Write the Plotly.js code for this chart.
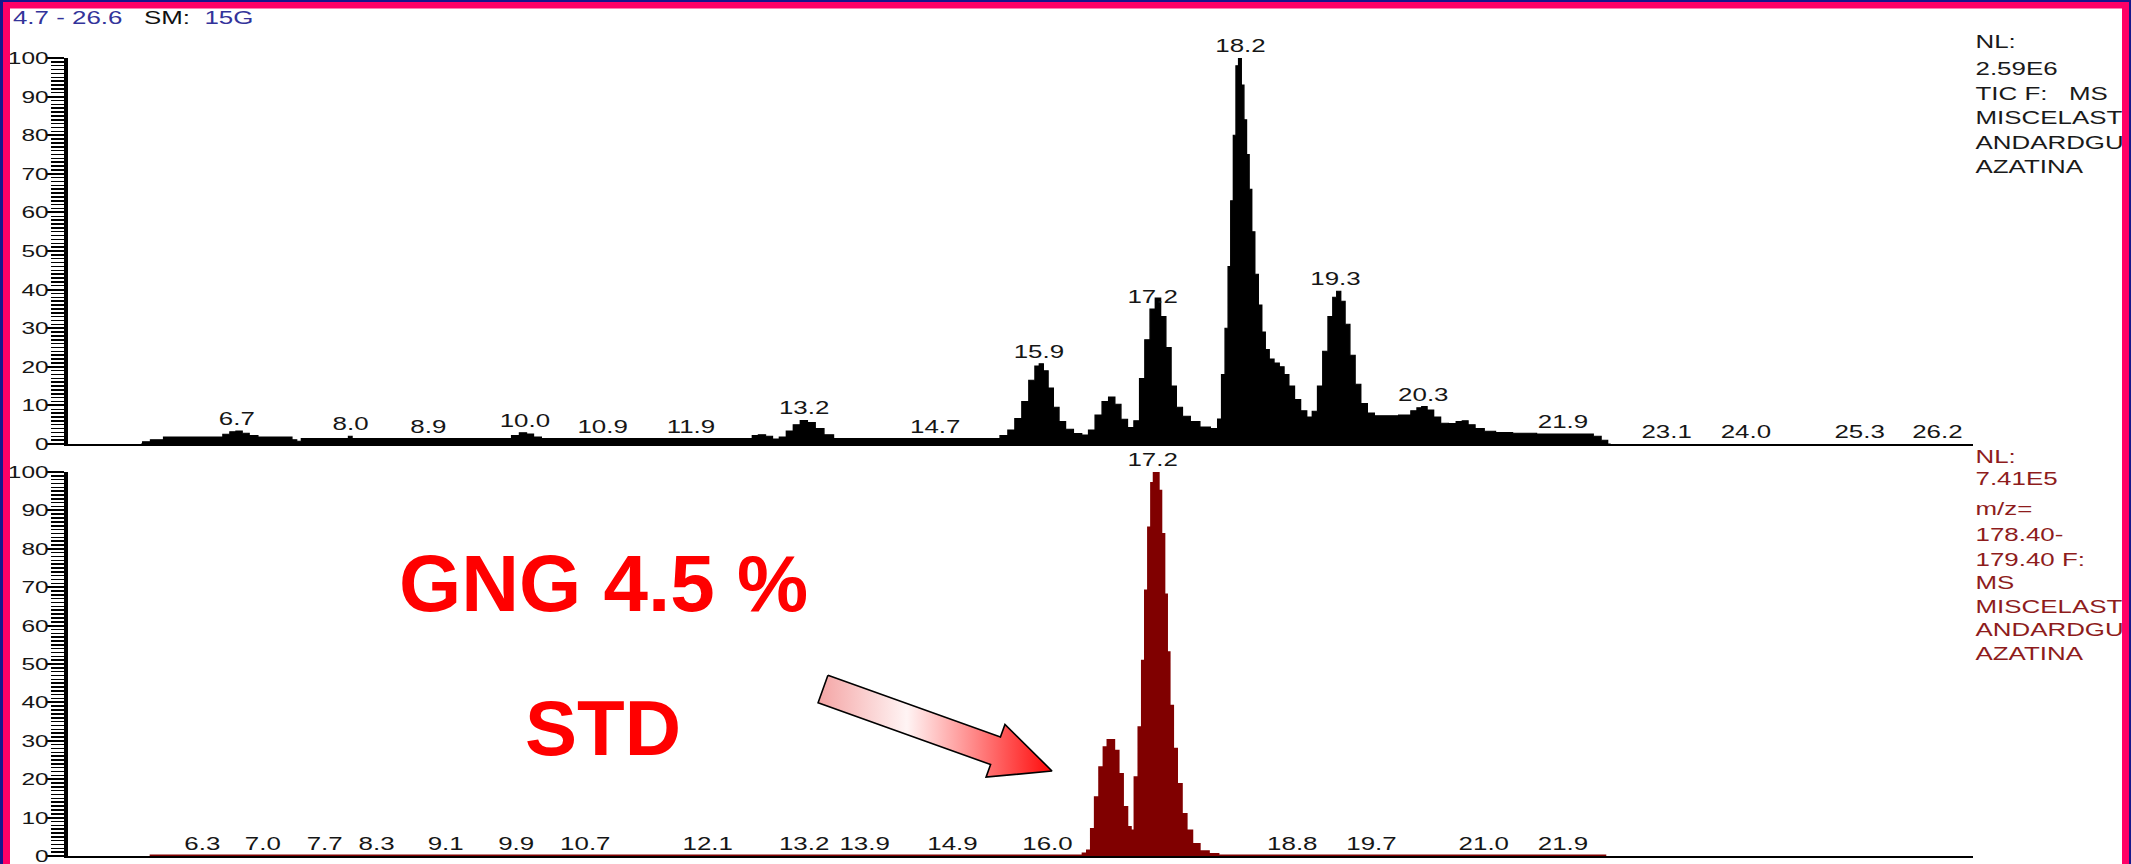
<!DOCTYPE html>
<html>
<head>
<meta charset="utf-8">
<title>Chromatogram</title>
<script src="https://cdn.plot.ly/plotly-3.0.1.min.js"></script>
<style>
  html, body { margin: 0; padding: 0; background: #ffffff; }
  #stage { position: relative; width: 2131px; height: 864px; overflow: hidden; background: #ffffff; }
  /* the instrument printout is laid out narrow and widened horizontally */
  #chart { position: absolute; left: 0; top: 0; width: 1480px; height: 864px;
           transform: scaleX(1.43986); transform-origin: 0 0; }
  #callout { position: absolute; left: 0; top: 0; width: 2131px; height: 864px; }
</style>
</head>
<body>
<div id="stage">
  <div id="chart"></div>
  <div id="callout"></div>
</div>
<script>
// ---------------- data ----------------
// Retention-time window shown on both traces (min)
const timeWindow = [4.76, 26.6];

// Total ion current: retention time (min) / relative abundance (%)
const ticTime = [
  5.60, 5.64, 5.78, 5.94, 6.30, 6.50, 6.58, 6.66, 6.72, 6.80, 6.88, 7.00,
  7.30, 7.36, 7.41, 7.47, 7.96, 8.00, 8.04, 9.80, 9.90, 9.98, 10.06, 10.14,
  10.24, 12.58, 12.64, 12.72, 12.80, 12.88, 12.96, 13.04, 13.12, 13.20, 13.28, 13.38,
  13.48, 13.60, 15.40, 15.50, 15.58, 15.66, 15.74, 15.82, 15.88, 15.92, 15.97, 16.03,
  16.09, 16.16, 16.24, 16.34, 16.43, 16.50, 16.58, 16.66, 16.73, 16.80, 16.87, 16.95,
  17.02, 17.08, 17.14, 17.20, 17.26, 17.32, 17.38, 17.44, 17.50, 17.58, 17.68, 17.80,
  17.92, 17.97, 18.01, 18.05, 18.08, 18.11, 18.14, 18.17, 18.20, 18.23, 18.26, 18.29,
  18.32, 18.35, 18.39, 18.43, 18.47, 18.51, 18.56, 18.62, 18.68, 18.73, 18.79, 18.86,
  18.93, 19.00, 19.06, 19.12, 19.18, 19.24, 19.29, 19.33, 19.38, 19.43, 19.49, 19.55,
  19.62, 19.70, 19.78, 19.92, 20.12, 20.20, 20.26, 20.31, 20.38, 20.46, 20.54, 20.64,
  20.72, 20.78, 20.85, 20.94, 21.06, 21.20, 21.45, 21.75, 22.20, 22.30, 22.38, 22.45
];
const ticAbundance = [
  0, 0.6, 1.1, 1.8, 1.8, 1.8, 2.5, 3.2, 3.4, 2.8, 2.2, 1.8,
  1.8, 1.1, 0.7, 1.4, 1.4, 2.0, 1.4, 1.4, 2.2, 2.9, 2.6, 1.8,
  1.4, 1.4, 2.2, 2.4, 2.0, 1.3, 1.8, 3.4, 5.0, 6.1, 5.6, 4.0,
  2.4, 1.4, 1.4, 2.2, 3.6, 6.6, 11, 16.5, 20.2, 20.8, 19, 14.5,
  9.5, 5.8, 3.8, 2.7, 2.3, 3.6, 7.5, 11, 12.2, 10.3, 6.4, 4.3,
  6.0, 17, 27, 35, 37.8, 33, 25, 15, 9.5, 7.2, 5.8, 4.4,
  4.0, 6.5, 18, 30, 46, 63, 80, 98, 100, 93, 84, 75,
  66, 55, 44, 36, 29, 24.5, 22, 21, 20, 18, 15, 11.5,
  8.6, 7.0, 8.5, 15, 24, 33, 38, 39.6, 37, 31, 23, 15.5,
  10.5, 8.0, 7.3, 7.3, 7.5, 8.6, 9.4, 9.7, 8.8, 7.0, 5.4, 5.3,
  5.8, 6.0, 5.0, 4.0, 3.3, 3.0, 2.8, 2.6, 2.6, 2.0, 1.0, 0
];

// Extracted ion trace m/z 178.40-179.40: retention time (min) / relative abundance (%)
const xicTime = [
  5.70, 16.38, 16.44, 16.48, 16.53, 16.57, 16.63, 16.67, 16.72, 16.77, 16.82, 16.87,
  16.92, 16.95, 16.98, 17.03, 17.07, 17.11, 17.14, 17.18, 17.21, 17.24, 17.27, 17.30,
  17.34, 17.36, 17.40, 17.44, 17.49, 17.55, 17.60, 17.68, 17.77, 17.89, 17.99, 22.40
];
const xicAbundance = [
  0, 0, 0.5, 1.3, 6.9, 15.2, 23, 28.2, 30.1, 27.3, 21.2, 12.6,
  7.4, 4.6, 6.5, 20.4, 33.4, 50.7, 69, 85.4, 97, 100, 95, 83.7,
  68, 52.9, 39, 27.8, 18.6, 10.8, 6.5, 3.0, 1.1, 0.4, 0, 0
];

// Apex retention-time labels (min)
const ticPeakLabels = ['6.7', '8.0', '8.9', '10.0', '10.9', '11.9', '13.2', '14.7', '15.9',
                       '17.2', '18.2', '19.3', '20.3', '21.9', '23.1', '24.0', '25.3', '26.2'];
const xicPeakLabels = ['6.3', '7.0', '7.7', '8.3', '9.1', '9.9', '10.7', '12.1', '13.2',
                       '13.9', '14.9', '16.0', '17.2', '18.8', '19.7', '21.0', '21.9'];

// Trace header and scan info
const headerRange = '4.7 - 26.6';
const headerSmoothing = '15G';
const ticInfoLines = ['NL:', '2.59E6', 'TIC F:\u00a0\u00a0\u00a0MS', 'MISCELAST', 'ANDARDGU', 'AZATINA'];
const xicInfoLines = ['NL:', '7.41E5', 'm/z=', '178.40-', '179.40 F:', 'MS', 'MISCELAST', 'ANDARDGU', 'AZATINA'];
const nextTraceInfo = 'NL:';

// Callout text
const calloutSample = 'GNG 4.5 %';
const calloutStandard = 'STD';

// ---------------- styling ----------------
const FONT = 'Arial, "Liberation Sans", sans-serif';
const INK = '#161616';
const NAVY = '#33339a';
const MAROON = '#800000';
const INFO_RED = '#8e1c1c';
const GREEN = '#1f8a1f';
const H = 864;

// value of a stepped (hvh) trace at time t
function valueAt(times, values, t) {
  if (t < times[0] || t > times[times.length - 1]) return 0;
  for (let i = 0; i < times.length - 1; i++) {
    if (t >= times[i] && t <= times[i + 1]) {
      const mid = (times[i] + times[i + 1]) / 2;
      return t < mid ? values[i] : values[i + 1];
    }
  }
  return 0;
}
// highest point of the trace close to the labelled apex
function apexHeight(times, values, t) {
  let h = valueAt(times, values, t);
  times.forEach((ti, i) => { if (Math.abs(ti - t) <= 0.06) h = Math.max(h, values[i]); });
  return h;
}
function peakLabelAnnotations(labels, times, values, xref, yref) {
  return labels.map(lbl => {
    const t = parseFloat(lbl);
    return {
      x: t, y: apexHeight(times, values, t), xref: xref, yref: yref,
      text: lbl, showarrow: false, xanchor: 'center', yanchor: 'bottom',
      font: {family: FONT, size: 18, color: INK}
    };
  });
}
function infoAnnotations(lines, rowsPx, color) {
  return lines.map((line, i) => ({
    x: 1, xref: 'paper', xanchor: 'left',
    y: 1 - rowsPx[i] / H, yref: 'paper', yanchor: 'middle',
    text: line, showarrow: false, align: 'left',
    font: {family: FONT, size: 18, color: color}
  }));
}

function yAxisStyle(domain, anchor) {
  return {
    domain: domain, anchor: anchor, range: [0, 100],
    showline: true, linecolor: '#000', linewidth: 2.8,
    ticks: 'outside', ticklen: 12, tickwidth: 2, tickcolor: '#000',
    tick0: 0, dtick: 10, ticklabelstandoff: -5, ticklabeloverflow: 'allow',
    minor: {ticks: 'outside', dtick: 1, ticklen: 8.5, tickwidth: 1.5, tickcolor: '#000'},
    tickfont: {family: FONT, size: 17, color: INK},
    showgrid: false, zeroline: false, fixedrange: true
  };
}
function xAxisStyle(anchor) {
  return {
    anchor: anchor, range: timeWindow, domain: [0, 1],
    showline: true, linecolor: '#000', linewidth: 1.8,
    ticks: '', showticklabels: false, showgrid: false, zeroline: false, fixedrange: true
  };
}

// ---------------- chromatogram ----------------
const traces = [
  {
    type: 'scatter', mode: 'lines', x: ticTime, y: ticAbundance, xaxis: 'x', yaxis: 'y',
    line: {color: '#000', width: 1, shape: 'hvh'}, fill: 'tozeroy', fillcolor: '#000',
    hoverinfo: 'skip'
  },
  {
    type: 'scatter', mode: 'lines', x: xicTime, y: xicAbundance, xaxis: 'x2', yaxis: 'y2',
    line: {color: MAROON, width: 3, shape: 'hvh'}, fill: 'tozeroy', fillcolor: MAROON,
    hoverinfo: 'skip'
  }
];

const annotations = []
  .concat(peakLabelAnnotations(ticPeakLabels, ticTime, ticAbundance, 'x', 'y'))
  .concat(peakLabelAnnotations(xicPeakLabels, xicTime, xicAbundance, 'x2', 'y2'))
  .concat(infoAnnotations(ticInfoLines, [42, 69, 94, 118, 143, 167], '#1a1a1a'))
  .concat(infoAnnotations(xicInfoLines, [457, 479, 509, 535, 560, 583, 607, 630, 654], INFO_RED))
  .concat(infoAnnotations([nextTraceInfo], [871], GREEN));

const layout = {
  width: 1480, height: H,
  margin: {l: 47, r: 110, t: 0, b: 0},
  paper_bgcolor: '#ffffff', plot_bgcolor: '#ffffff',
  showlegend: false,
  font: {family: FONT, size: 18, color: INK},
  title: {
    text: '<span style="color:' + NAVY + '">' + headerRange + '</span>\u00a0\u00a0\u00a0SM:\u00a0\u00a0<span style="color:' + NAVY + '">' + headerSmoothing + '</span>',
    x: 9 / 1480, xref: 'container', xanchor: 'left',
    y: 1 - 17.5 / H, yref: 'container', yanchor: 'middle',
    font: {family: FONT, size: 18, color: '#111'}
  },
  xaxis: xAxisStyle('y'),
  yaxis: yAxisStyle([420 / H, 806 / H], 'x'),
  xaxis2: xAxisStyle('y2'),
  yaxis2: yAxisStyle([8 / H, 392 / H], 'x2'),
  annotations: annotations
};

Plotly.newPlot('chart', traces, layout, {staticPlot: true, displayModeBar: false});

// ---------------- frame and callout ----------------
const PINK = '#ff0066';
const FRAME_BLUE = '#17178c';

// block arrow pointing at the standard peak
const arrowTail = [823, 689];
const arrowTip = [1052, 771];
const shaftHalf = 14.6, headHalf = 28, headLen = 60;
function blockArrow() {
  const dx = arrowTip[0] - arrowTail[0], dy = arrowTip[1] - arrowTail[1];
  const len = Math.hypot(dx, dy);
  const u = [dx / len, dy / len];
  const n = [-u[1], u[0]];
  const hb = [arrowTip[0] - headLen * u[0], arrowTip[1] - headLen * u[1]];
  const p = (c, k) => [c[0] + k * n[0], c[1] + k * n[1]];
  const pts = [p(arrowTail, -shaftHalf), p(hb, -shaftHalf), p(hb, -headHalf), arrowTip,
               p(hb, headHalf), p(hb, shaftHalf), p(arrowTail, shaftHalf), p(arrowTail, -shaftHalf)];
  return {xs: pts.map(q => q[0]), ys: pts.map(q => q[1])};
}
const arrow = blockArrow();

const calloutTraces = [{
  type: 'scatter', mode: 'lines', x: arrow.xs, y: arrow.ys,
  fill: 'toself', fillcolor: '#ff6a6a',
  fillgradient: {type: 'horizontal', start: 818, stop: 1052,
                 colorscale: [[0, '#f4a4a4'], [0.38, '#fff4f4'], [1, '#ff0a0a']]},
  line: {color: '#000', width: 1.6}, hoverinfo: 'skip'
}];

function band(x0, x1, y0, y1, color) {
  return {type: 'rect', xref: 'x', yref: 'y', x0: x0, x1: x1, y0: y0, y1: y1,
          fillcolor: color, line: {width: 0}, layer: 'above'};
}

const calloutLayout = {
  width: 2131, height: H,
  margin: {l: 0, r: 0, t: 0, b: 0},
  paper_bgcolor: 'rgba(0,0,0,0)', plot_bgcolor: 'rgba(0,0,0,0)',
  showlegend: false,
  xaxis: {range: [0, 2131], visible: false, fixedrange: true},
  yaxis: {range: [H, 0], visible: false, fixedrange: true},
  shapes: [
    band(0, 3, 0, H, FRAME_BLUE),
    band(0, 2131, 0, 2, FRAME_BLUE),
    band(2129, 2131, 0, H, FRAME_BLUE),
    band(3, 10, 2, H, PINK),
    band(3, 2129, 2, 8.5, PINK),
    band(2122, 2129, 2, H, PINK)
  ],
  annotations: [
    {x: 603, y: 583, xref: 'x', yref: 'y', text: calloutSample, showarrow: false,
     xanchor: 'center', yanchor: 'middle',
     font: {family: FONT, size: 80, weight: 700, color: '#ff0000'}},
    {x: 603, y: 727.5, xref: 'x', yref: 'y', text: calloutStandard, showarrow: false,
     xanchor: 'center', yanchor: 'middle',
     font: {family: FONT, size: 78, weight: 700, color: '#ff0000'}}
  ]
};

Plotly.newPlot('callout', calloutTraces, calloutLayout, {staticPlot: true, displayModeBar: false});
</script>
</body>
</html>
